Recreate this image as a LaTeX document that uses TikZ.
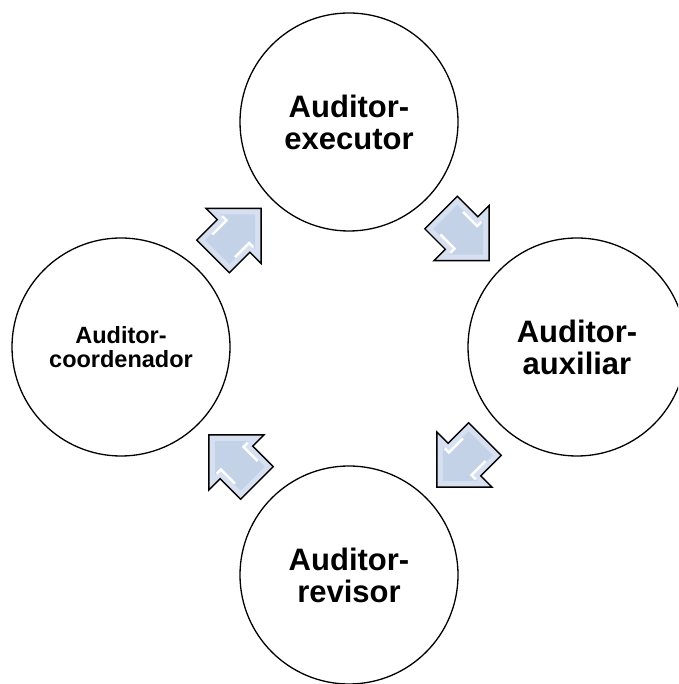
\documentclass[tikz,border=0pt]{standalone}
\usepackage{fontspec}
\setmainfont{Liberation Sans}
\usetikzlibrary{calc}

\definecolor{arrowblue}{RGB}{196,210,232}
\definecolor{arrowpale}{RGB}{214,224,240}

% block arrow of the cycle, pointing along +x
\tikzset{
  cyclearrow/.pic={
    \filldraw[fill=arrowpale, draw=black, line width=1.4pt, line join=miter]
      (-31,-23) -- (-2,-23) -- (-2,-39) -- (37,0) -- (-2,39) -- (-2,23) -- (-31,23) -- cycle;
    \fill[arrowblue]
      (-25,-17) -- (4,-17) -- (4,-24.5) -- (28.5,0) -- (4,24.5) -- (4,17) -- (-25,17) -- cycle;
    \draw[white, line width=2.4pt] (-16,-16) -- (4,-16) -- (4,-22);
    \draw[white, line width=2.4pt] (-16,16) -- (4,16) -- (4,22);
  }
}

\begin{document}
\begin{tikzpicture}[x=1pt, y=1pt,
   every node/.style={draw, circle, line width=1.3pt, fill=white,
     minimum size=218pt, inner sep=0pt, align=center,
     font=\bfseries\fontsize{31}{32}\selectfont},
   small/.style={font=\bfseries\fontsize{23.5}{24}\selectfont}]

\useasboundingbox (0,0) rectangle (678,684);
\clip (0,0) rectangle (678,684);

\node (exec)  at (349,562) {Auditor-\\executor};
\node (aux)   at (577,337) {Auditor-\\auxiliar};
\node (rev)   at (349,109) {Auditor-\\revisor};
\node[small] (coord) at (121,337) {Auditor-\\coordenador};

% arrows halfway between the circles
\coordinate (exec-aux)   at ($(exec)!0.5!(aux)$);
\coordinate (aux-rev)    at ($(aux)!0.5!(rev)$);
\coordinate (rev-coord)  at ($(rev)!0.5!(coord)$);
\coordinate (coord-exec) at ($(coord)!0.5!(exec)$);

\pic[rotate=-45]  at (exec-aux)   {cyclearrow};
\pic[rotate=-135] at (aux-rev)    {cyclearrow};
\pic[rotate=135]  at (rev-coord)  {cyclearrow};
\pic[rotate=45]   at (coord-exec) {cyclearrow};

\end{tikzpicture}
\end{document}
